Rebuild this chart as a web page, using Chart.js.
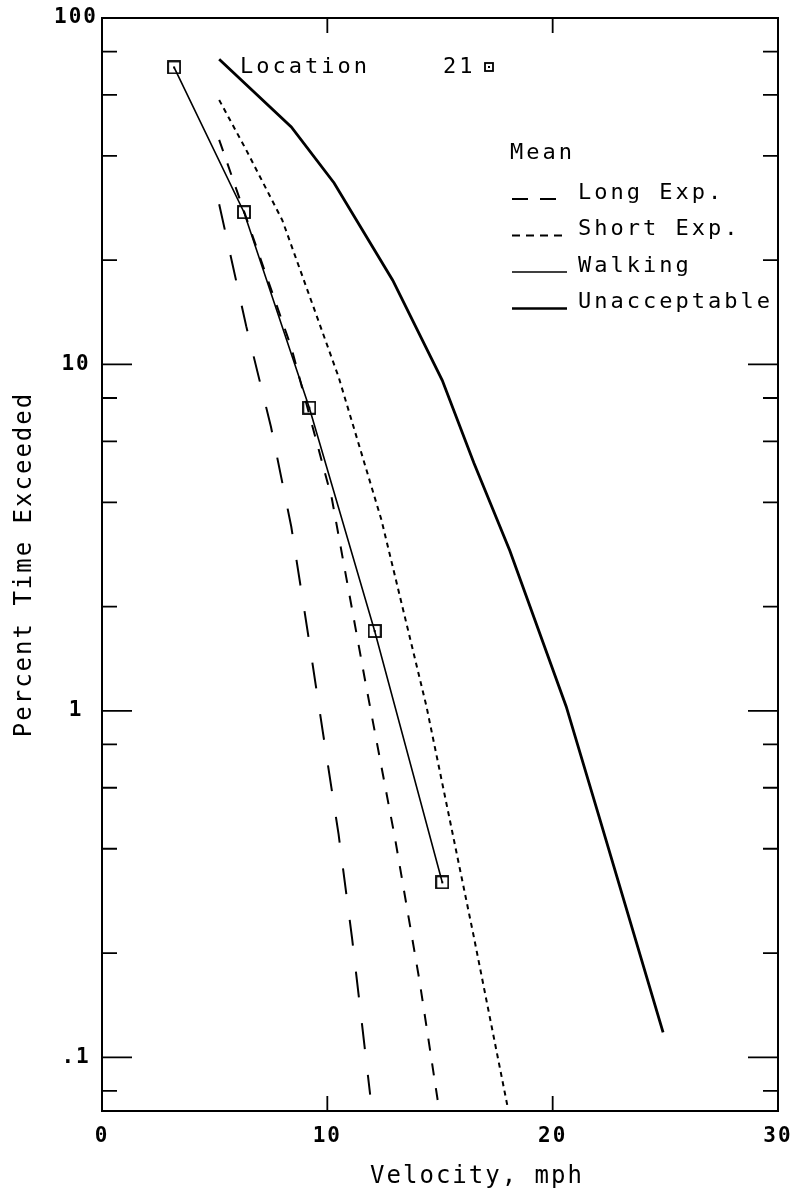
<!DOCTYPE html>
<html>
<head>
<meta charset="utf-8">
<title>Location 21 - Percent Time Exceeded</title>
<script src="https://cdn.jsdelivr.net/npm/chart.js@4/dist/chart.umd.min.js"></script>
<style>
  html, body { margin: 0; padding: 0; background: #fff; }
  canvas { display: block; }
</style>
</head>
<body>
<canvas id="myChart" width="795" height="1195"></canvas>
<script>
// values: velocity (mph) vs percent time exceeded
var location21Vel = [3.2, 6.3, 9.2, 12.1, 15.1];
var location21Pct = [72, 27.5, 7.5, 1.7, 0.32];

var longExpVel = [5.2, 6.4, 7.5, 8.4, 9.1, 9.8, 10.5, 11.1, 11.9];
var longExpPct = [29, 12.9, 6.6, 3.4, 1.74, 0.87, 0.44, 0.22, 0.078];

var shortExpVel = [5.2, 8.4, 10.2, 11.7, 13.0, 14.1, 14.9];
var shortExpPct = [44.5, 11.2, 4.1, 1.2, 0.43, 0.165, 0.075];

var walkingVel = [5.2, 6.4, 8.0, 10.5, 12.4, 14.4, 16.5, 18.0];
var walkingPct = [58, 41.6, 26.1, 9.2, 3.56, 1.03, 0.223, 0.072];

var unaccVel = [5.2, 8.4, 10.3, 12.9, 15.1, 16.5, 18.1, 20.6, 22.0, 24.9];
var unaccPct = [76, 48.5, 33.4, 17.5, 9.0, 5.2, 2.9, 1.03, 0.51, 0.118];

var seriesLabels = ['Location 21', 'Long Exp.', 'Short Exp.', 'Walking', 'Unacceptable'];

var xTicks = [0, 10, 20, 30];
var xTickLabels = ['0', '10', '20', '30'];
var yTicks = [0.1, 1, 10, 100];
var yTickLabels = ['.1', '1', '10', '100'];
var yMinorTicks = [0.08, 0.2, 0.4, 0.6, 0.8, 2, 4, 6, 8, 20, 40, 60, 80];

var fontFamily = '"DejaVu Sans Mono", monospace';

function pts(xs, ys) {
    return xs.map(function(x, i){ return {x: x, y: ys[i]}; });
}

function squareMarker(size) {
    var c = document.createElement('canvas');
    c.width = size;
    c.height = size;
    var g = c.getContext('2d');
    g.strokeStyle = '#000';
    g.fillStyle = '#000';
    g.lineWidth = 1.8;
    g.strokeRect(1, 1, size - 2, size - 2);
    g.fillRect(size / 2 - 1, size / 2 - 1, 2, 2);
    return c;
}
var marker = squareMarker(14);
var smallMarker = squareMarker(10);

// legend samples (the reference draws them with their own dash scale)
var legendDash = [[16, 12], [8, 6], [], []];
var legendWidth = [1.8, 1.8, 1.3, 2.6];

var spacingPlugin = {
    id: 'spacing',
    beforeUpdate: function(chart){ chart.ctx.letterSpacing = '2px'; },
    beforeDraw: function(chart){ chart.ctx.letterSpacing = '2px'; }
};

var framePlugin = {
    id: 'frame',
    afterDraw: function(chart){
        var ctx = chart.ctx, a = chart.chartArea;
        var xs = chart.scales.x, ys = chart.scales.y;
        ctx.save();
        ctx.strokeStyle = '#000';
        ctx.fillStyle = '#000';
        ctx.lineWidth = 2;
        ctx.strokeRect(a.left, a.top, a.right - a.left, a.bottom - a.top);

        // inward ticks on all four sides
        ctx.lineWidth = 1.8;
        ctx.beginPath();
        function yTick(v, len) {
            var y = ys.getPixelForValue(v);
            ctx.moveTo(a.left, y); ctx.lineTo(a.left + len, y);
            ctx.moveTo(a.right, y); ctx.lineTo(a.right - len, y);
        }
        yTicks.forEach(function(v){ yTick(v, 30); });
        yMinorTicks.forEach(function(v){ yTick(v, 15); });
        xTicks.forEach(function(v){
            var x = xs.getPixelForValue(v);
            ctx.moveTo(x, a.bottom); ctx.lineTo(x, a.bottom - 15);
            ctx.moveTo(x, a.top); ctx.lineTo(x, a.top + 15);
        });
        ctx.stroke();

        // x axis title
        ctx.letterSpacing = '2px';
        ctx.font = '24px ' + fontFamily;
        ctx.textAlign = 'center';
        ctx.textBaseline = 'alphabetic';
        ctx.fillText('Velocity, mph', (a.left + a.right) / 2 + 37, a.bottom + 72);

        // location label
        ctx.letterSpacing = '3px';
        ctx.font = '22px ' + fontFamily;
        ctx.textAlign = 'left';
        ctx.textBaseline = 'middle';
        ctx.fillText('Location', a.left + 138, a.top + 49);
        ctx.fillText('21', a.left + 341, a.top + 49);
        ctx.drawImage(smallMarker, a.left + 382, a.top + 44);

        // legend
        var lx = a.left + 408;
        ctx.fillText('Mean', lx, a.top + 135);
        for (var i = 0; i < 4; i++) {
            var ty = a.top + 175 + i * 36.5;
            ctx.fillText(seriesLabels[i + 1], lx + 68, ty);
            ctx.save();
            ctx.lineWidth = legendWidth[i];
            ctx.setLineDash(legendDash[i]);
            ctx.beginPath();
            ctx.moveTo(lx + 2, ty + 6);
            ctx.lineTo(lx + (i === 0 ? 46 : 57), ty + 6);
            ctx.stroke();
            ctx.restore();
        }
        ctx.restore();
    }
};

var ctx = document.getElementById('myChart').getContext('2d');
var myChart = new Chart(ctx, {
    type: 'scatter',
    data: {
        datasets: [{
            label: seriesLabels[0],
            data: pts(location21Vel, location21Pct),
            showLine: true,
            borderColor: '#000',
            borderWidth: 1.6,
            pointStyle: marker,
            pointRadius: 7
        }, {
            label: seriesLabels[1],
            data: pts(longExpVel, longExpPct),
            showLine: true,
            borderColor: '#000',
            borderWidth: 2,
            borderDash: [26, 26],
            pointRadius: 0
        }, {
            label: seriesLabels[2],
            data: pts(shortExpVel, shortExpPct),
            showLine: true,
            borderColor: '#000',
            borderWidth: 2,
            borderDash: [12, 13],
            pointRadius: 0
        }, {
            label: seriesLabels[3],
            data: pts(walkingVel, walkingPct),
            showLine: true,
            borderColor: '#000',
            borderWidth: 2,
            borderDash: [5, 4.5],
            pointRadius: 0
        }, {
            label: seriesLabels[4],
            data: pts(unaccVel, unaccPct),
            showLine: true,
            borderColor: '#000',
            borderWidth: 2.8,
            pointRadius: 0
        }]
    },
    options: {
        responsive: false,
        animation: false,
        devicePixelRatio: 1,
        layout: { padding: { top: 18, right: 17, left: 0, bottom: 0 } },
        elements: { line: { tension: 0, fill: false } },
        plugins: {
            legend: { display: false },
            tooltip: { enabled: false }
        },
        scales: {
            x: {
                type: 'linear',
                min: 0,
                max: 30,
                bounds: 'data',
                grid: { display: false, drawTicks: false },
                border: { display: false },
                afterBuildTicks: function(scale){
                    scale.ticks = xTicks.map(function(v){ return {value: v}; });
                },
                ticks: {
                    padding: 13,
                    maxRotation: 0,
                    autoSkip: false,
                    color: '#000',
                    font: { family: fontFamily, size: 21, weight: 'bold' },
                    callback: function(v, i){ return xTickLabels[i]; }
                },
                afterFit: function(scale){
                    scale.height = 84;
                    scale.paddingLeft = 0;
                    scale.paddingRight = 0;
                }
            },
            y: {
                type: 'logarithmic',
                min: 0.07,
                max: 100,
                bounds: 'data',
                grid: { display: false, drawTicks: false },
                border: { display: false },
                afterBuildTicks: function(scale){
                    scale.ticks = yTicks.map(function(v){ return {value: v}; });
                },
                ticks: {
                    padding: 4,
                    crossAlign: 'center',
                    autoSkip: false,
                    color: '#000',
                    font: { family: fontFamily, size: 21, weight: 'bold' },
                    callback: function(v, i){ return yTickLabels[i]; }
                },
                title: {
                    display: true,
                    text: 'Percent Time Exceeded',
                    color: '#000',
                    font: { family: fontFamily, size: 24 },
                    padding: { top: 10, bottom: 0 }
                },
                afterFit: function(scale){
                    scale.width = 102;
                    scale.paddingTop = 0;
                    scale.paddingBottom = 0;
                }
            }
        }
    },
    plugins: [spacingPlugin, framePlugin]
});
</script>
</body>
</html>
